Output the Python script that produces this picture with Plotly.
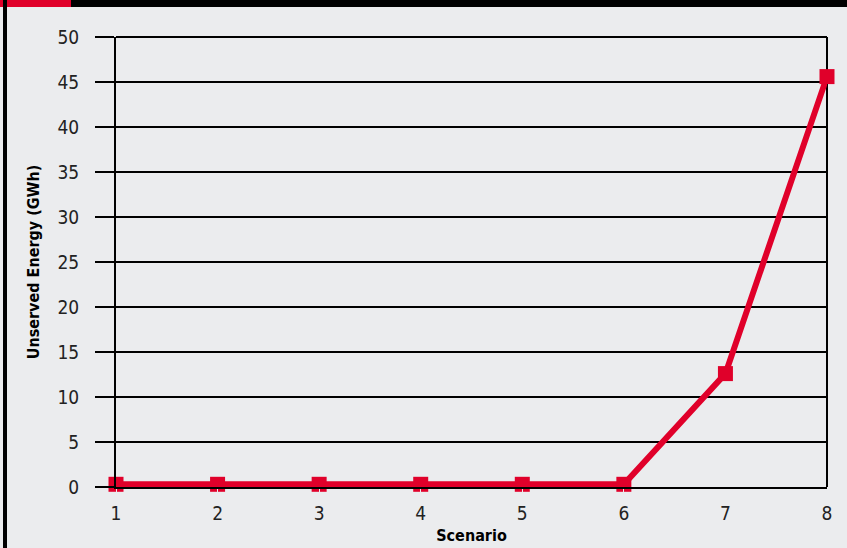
import plotly.graph_objects as go

# Unserved energy per scenario
scenarios = [1, 2, 3, 4, 5, 6, 7, 8]
unserved_gwh = [0.3, 0.3, 0.3, 0.3, 0.3, 0.3, 12.6, 45.6]
y_ticks = [0, 5, 10, 15, 20, 25, 30, 35, 40, 45, 50]

RED = "#E0002A"
BG = "#EBECEE"
FONT = "DejaVu Sans Condensed, Liberation Sans Narrow, sans-serif"

W, H = 847, 548
L, R, T, B = 116, 20, 37, 61
pw, ph = W - L - R, H - T - B


def px(x):
    return (x - L) / pw


def py(y):
    return (H - B - y) / ph


fig = go.Figure()
fig.add_trace(go.Scatter(
    x=scenarios, y=unserved_gwh, mode="lines+markers",
    line=dict(color=RED, width=6),
    marker=dict(symbol="square", size=15, color=RED),
    cliponaxis=False, showlegend=False,
))

shapes = [
    # top banner and red tab
    dict(type="rect", xref="paper", yref="paper", x0=px(0), x1=px(W), y0=py(7), y1=py(0),
         fillcolor="black", line_width=0, layer="above"),
    dict(type="rect", xref="paper", yref="paper", x0=px(0), x1=px(71), y0=py(7), y1=py(0),
         fillcolor=RED, line_width=0, layer="above"),
    # left border strip
    dict(type="rect", xref="paper", yref="paper", x0=px(3), x1=px(7), y0=py(H), y1=py(0),
         fillcolor="black", line_width=0, layer="above"),
    # plot frame: top and right edges
    dict(type="line", xref="paper", yref="paper", x0=0, x1=1, y0=1, y1=1,
         line=dict(color="black", width=2), layer="below"),
    dict(type="line", xref="paper", yref="paper", x0=1, x1=1, y0=0, y1=1,
         line=dict(color="black", width=2), layer="below"),
]

fig.update_layout(
    width=W, height=H,
    margin=dict(l=L, r=R, t=T, b=B),
    paper_bgcolor=BG, plot_bgcolor=BG,
    font=dict(family=FONT, color="#222222", size=19),
    shapes=shapes,
    xaxis=dict(
        range=[1, 8], tickvals=scenarios, ticktext=[str(s) for s in scenarios],
        showgrid=False, zeroline=False, automargin=False,
        showline=True, linecolor="black", linewidth=2,
        ticks="outside", ticklen=8, tickcolor=BG, tickwidth=1,
        tickfont=dict(size=19),
        title=dict(text="<b>Scenario</b>", font=dict(size=16, color="black"), standoff=7),
    ),
    yaxis=dict(
        range=[0, 50], tickvals=y_ticks,
        showgrid=True, gridcolor="black", gridwidth=1.5,
        zeroline=False, automargin=False,
        showline=True, linecolor="black", linewidth=2,
        ticks="outside", ticklen=19, tickcolor="black", tickwidth=1.5,
        ticklabelstandoff=12,
        tickfont=dict(size=19),
        title=dict(text="<b>Unserved Energy (GWh)</b>", font=dict(size=16, color="black"), standoff=14),
    ),
)

fig.write_html("out.html")
